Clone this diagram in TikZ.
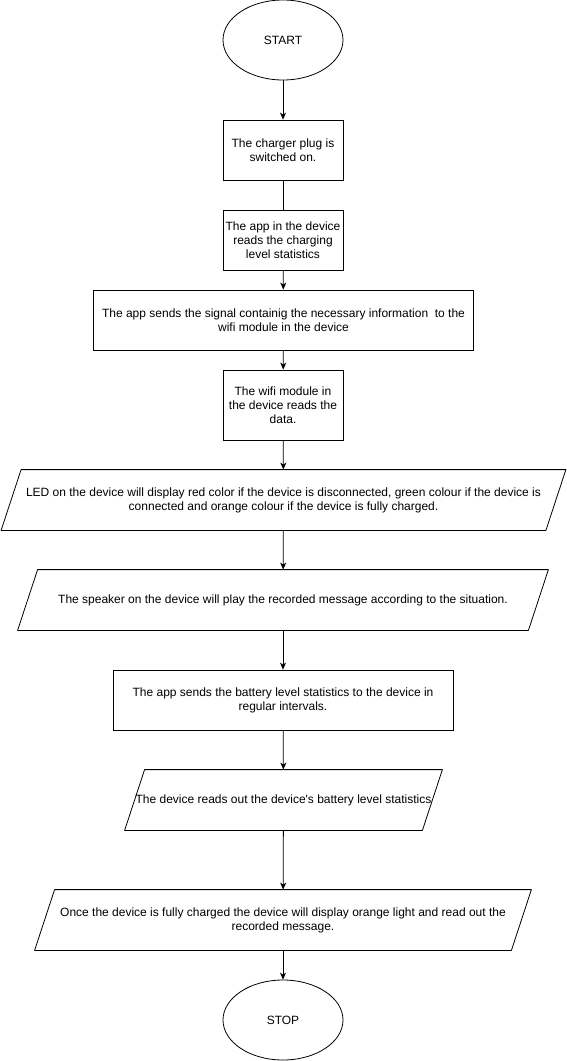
\documentclass[tikz,border=0pt]{standalone}
\usepackage{fontspec}
\setmainfont{Liberation Sans}
\usetikzlibrary{shapes.geometric,arrows.meta}

\begin{document}
\begin{tikzpicture}[
        x=1pt, y=-1pt,
        line width=0.8pt,
        every node/.style={font=\fontsize{12}{14}\selectfont, align=center, inner sep=2pt},
        terminal/.style={draw, ellipse, minimum width=120, minimum height=80},
        process/.style={draw, rectangle, minimum height=60},
        io/.style={rectangle, minimum height=60, inner sep=0pt},
        flow/.style={-{Stealth[length=7pt, width=6pt, inset=2pt]}},
    ]
        \useasboundingbox (0, 0) rectangle (566, 1061);

        \node[terminal] (start) at (283, 40) {START};
        \node[process, minimum width=120] (plug) at (283, 150) {The charger plug is\\switched on.};
        \node[process, minimum width=120] (readlvl) at (283, 240) {The app in the device\\reads the charging\\level statistics};
        \node[process, minimum width=380] (sendsig) at (283.5, 320) {The app sends the signal containig the necessary information~ to the\\wifi module in the device};
        \node[process, minimum width=120, minimum height=70] (wifiread) at (283, 405) {The wifi module in\\the device reads the\\data.};
        \node[io, minimum width=544] (led) at (283.5, 500) {LED on the device will display red color if the device is disconnected, green colour if the device is\\connected and orange colour if the device is fully charged.};
        \node[io, minimum width=510] (speaker) at (283, 600) {The speaker on the device will play the recorded message according to the situation.};
        \node[process, minimum width=340] (sendbat) at (283, 700) {The app sends the battery level statistics to the device in\\regular intervals.};
        \node[io, minimum width=297] (readout) at (283.5, 800) {The device reads out the device\textquotesingle s battery level statistics};
        \node[io, minimum width=476] (fullchg) at (283, 920) {Once the device is fully charged the device will display orange light and read out the\\recorded message.};
        \node[terminal] (stop) at (283, 1020) {STOP};

        % slanted input/output boxes
        \foreach \n in {led, speaker, readout, fullchg}
            \draw[line join=round] ([xshift=10]\n.north west) -- ([xshift=10]\n.north east) -- ([xshift=-10]\n.south east) -- ([xshift=-10]\n.south west) -- cycle;

        \draw[flow] (start) -- (plug);
        \draw (plug) -- (readlvl);
        \draw[flow] (readlvl) -- (sendsig);
        \draw[flow] (sendsig) -- (wifiread);
        \draw[flow] (wifiread) -- (led);
        \draw[flow] (led) -- (speaker);
        \draw[flow] (speaker) -- (sendbat);
        \draw[flow] (sendbat) -- (readout);
        \draw[flow] (readout) -- (fullchg);
        \draw[flow] (fullchg) -- (stop);
    \end{tikzpicture}
\end{document}
